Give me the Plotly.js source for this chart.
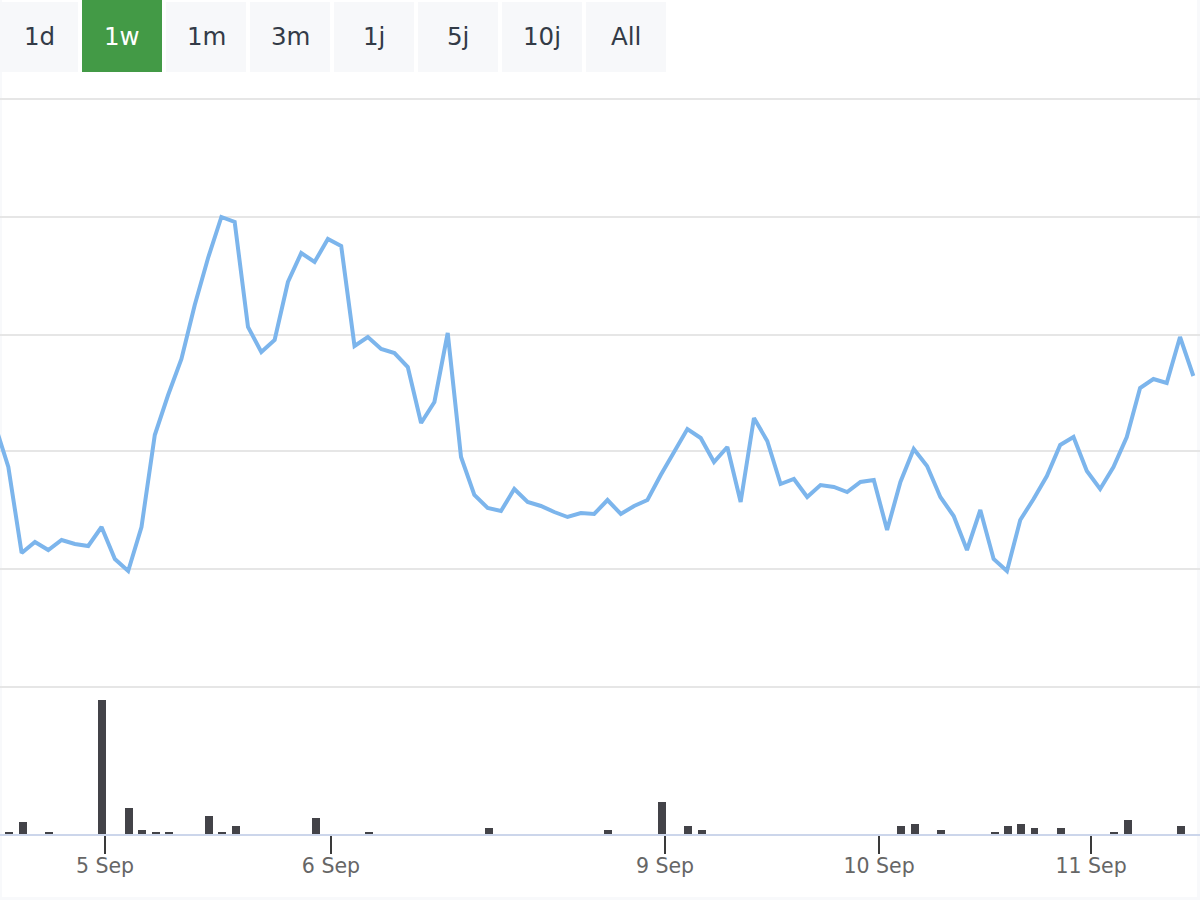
<!DOCTYPE html>
<html><head><meta charset="utf-8">
<script src="https://cdn.plot.ly/plotly-3.0.1.min.js"></script>
<style>html,body{margin:0;padding:0;background:#fff}#chart{width:1200px;height:900px}</style>
</head><body><div id="chart"></div>
<script>
// Sample index of each price reading (the first is off the left edge)
const priceStart = -1;
const priceValues = [262,220,134,145,137,147,143,141,160,128,116,160,252,292,328,382,429,470,465,360,335,347,405,434,425,448,441,341,350,338,334,
320,264,285,354,230,192,179,176,198,185,181,175,170,174,173,187,173,181,187,212,235,258,249,225,240,185,269,246,203,208,
190,202,200,195,205,207,157,205,238,221,190,171,137,177,128,116,167,188,211,242,250,216,198,220,250,299,308,304,350,311];
const volumeIndex = [0,1,3,7,9,10,11,12,15,16,17,23,27,36,45,49,51,52,67,68,70,74,75,76,77,79,83,84,88];
const volumeValues = [2,12,2,134,26,4,2,2,18,2,8,16,2,6,4,32,8,4,8,10,4,2,8,10,6,6,2,14,8];
const gridValues = [0,118,236,352,470,588];
const tickIndex = [7.26,24.23,49.32,65.4,81.32];
const tickLabels = ['5 Sep','6 Sep','9 Sep','10 Sep','11 Sep'];
const rangeLabels = ['1d','1w','1m','3m','1j','5j','10j','All'];
const activeRange = '1w';

const W=1200,H=900;
const fx=p=>p/W, fy=p=>1-p/H;
const priceX = priceValues.map((_,i)=>priceStart+i);

const shapes=[], annotations=[];
// faint page frame
[[0,0,2,900],[1197,0,1200,900],[0,897,1200,900]].forEach(r=>shapes.push({type:'rect',xref:'paper',yref:'paper',layer:'below',
  x0:fx(r[0]),x1:fx(r[2]),y0:fy(r[3]),y1:fy(r[1]),fillcolor:'#f8f9fb',line:{width:0}}));
rangeLabels.forEach((t,i)=>{
  const active=t===activeRange;
  const x0=i===0?0:82+84*(i-1), x1=i===0?78:x0+80;
  shapes.push({type:'rect',xref:'paper',yref:'paper',layer:'below',x0:fx(x0),x1:fx(x1),y0:fy(72),y1:fy(active?0:2),
    fillcolor:active?'#439a46':'#f7f8fa',line:{width:0}});
  annotations.push({xref:'paper',yref:'paper',x:fx((x0+x1)/2),y:fy(36),text:t,showarrow:false,xanchor:'center',yanchor:'middle',
    font:{family:'DejaVu Sans',size:24.5,color:active?'#ffffff':'#333b47'}});
});

Plotly.newPlot('chart',[
 {type:'scatter',mode:'lines',x:priceX,y:priceValues,xaxis:'x',yaxis:'y',line:{color:'#7cb5ec',width:4,shape:'linear'},hoverinfo:'skip'},
 {type:'bar',x:volumeIndex,y:volumeValues,xaxis:'x',yaxis:'y2',width:0.6,offset:-0.23,marker:{color:'#434348',line:{width:0}},hoverinfo:'skip'}
],{
 width:W,height:H,margin:{l:0,r:0,t:0,b:0,pad:0},showlegend:false,paper_bgcolor:'#fff',plot_bgcolor:'rgba(0,0,0,0)',
 font:{family:'DejaVu Sans',color:'#666666'},
 xaxis:{anchor:'y2',domain:[0,1],range:[-0.626,89.5],tickmode:'array',tickvals:tickIndex,ticktext:tickLabels,
   ticks:'outside',ticklen:18,tickwidth:2,tickcolor:'#3a3a3a',showgrid:false,zeroline:false,ticklabelstandoff:-6,ticklabelshift:0.5,
   showline:true,linecolor:'#ccd6eb',linewidth:2,tickfont:{family:'DejaVu Sans',size:20.5,color:'#666666'}},
 yaxis:{domain:[fy(693),fy(93)],range:[-6,594],tickmode:'array',tickvals:gridValues,
   showticklabels:false,ticks:'',showgrid:true,gridcolor:'#e6e6e6',gridwidth:2,zeroline:false,showline:false},
 yaxis2:{domain:[fy(834),fy(687)],range:[0,147],showticklabels:false,ticks:'',showgrid:false,zeroline:false,showline:false},
 shapes,annotations,bargap:0
},{staticPlot:true,displayModeBar:false});
</script></body></html>
